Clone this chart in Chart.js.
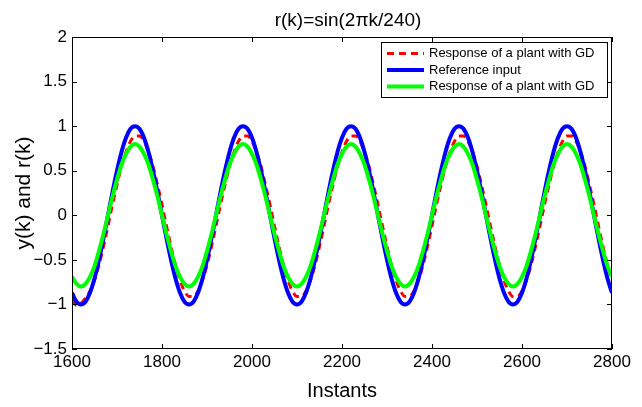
<!DOCTYPE html>
<html lang="en">
<head>
<meta charset="UTF-8">
<title>r(k)=sin(2πk/240)</title>
<script src="https://cdn.jsdelivr.net/npm/chart.js"></script>
<style>
  body { margin: 0; background: #fff; }
  canvas { display: block; }
</style>
</head>
<body>
<canvas id="chart" width="642" height="407"></canvas>
<script>
// sample instants (k)
const instants = [
  1600,1610,1620,1630,1640,1650,1660,1670,1680,1690,1700,1710,1720,1730,1740,1750,1760,1770,1780,1790,
  1800,1810,1820,1830,1840,1850,1860,1870,1880,1890,1900,1910,1920,1930,1940,1950,1960,1970,1980,1990,
  2000,2010,2020,2030,2040,2050,2060,2070,2080,2090,2100,2110,2120,2130,2140,2150,2160,2170,2180,2190,
  2200,2210,2220,2230,2240,2250,2260,2270,2280,2290,2300,2310,2320,2330,2340,2350,2360,2370,2380,2390,
  2400,2410,2420,2430,2440,2450,2460,2470,2480,2490,2500,2510,2520,2530,2540,2550,2560,2570,2580,2590,
  2600,2610,2620,2630,2640,2650,2660,2670,2680,2690,2700,2710,2720,2730,2740,2750,2760,2770,2780,2790,
  2800
];

// red dashed: response of a plant with GD
const responseGD = [
  -0.95,-1.01,-0.99,-0.93,-0.85,-0.73,-0.56,-0.35,-0.12,0.12,0.34,0.55,0.71,0.83,0.89,0.89,0.83,0.71,0.55,0.34,
  0.12,-0.12,-0.35,-0.56,-0.73,-0.85,-0.91,-0.91,-0.85,-0.73,-0.56,-0.35,-0.12,0.12,0.34,0.55,0.71,0.83,0.89,0.89,
  0.83,0.71,0.55,0.34,0.12,-0.12,-0.35,-0.56,-0.73,-0.85,-0.91,-0.91,-0.85,-0.73,-0.56,-0.35,-0.12,0.12,0.34,0.55,
  0.71,0.83,0.89,0.89,0.83,0.71,0.55,0.34,0.12,-0.12,-0.35,-0.56,-0.73,-0.85,-0.91,-0.91,-0.85,-0.73,-0.56,-0.35,
  -0.12,0.12,0.34,0.55,0.71,0.83,0.89,0.89,0.83,0.71,0.55,0.34,0.12,-0.12,-0.35,-0.56,-0.73,-0.85,-0.91,-0.91,
  -0.85,-0.73,-0.56,-0.35,-0.12,0.12,0.34,0.55,0.71,0.83,0.89,0.89,0.83,0.71,0.55,0.34,0.12,-0.12,-0.35,-0.56,
  -0.73
];

// blue: reference input
const referenceInput = [
  -0.87,-0.97,-1,-0.97,-0.87,-0.71,-0.5,-0.26,0,0.26,0.5,0.71,0.87,0.97,1,0.97,0.87,0.71,0.5,0.26,
  0,-0.26,-0.5,-0.71,-0.87,-0.97,-1,-0.97,-0.87,-0.71,-0.5,-0.26,0,0.26,0.5,0.71,0.87,0.97,1,0.97,
  0.87,0.71,0.5,0.26,0,-0.26,-0.5,-0.71,-0.87,-0.97,-1,-0.97,-0.87,-0.71,-0.5,-0.26,0,0.26,0.5,0.71,
  0.87,0.97,1,0.97,0.87,0.71,0.5,0.26,0,-0.26,-0.5,-0.71,-0.87,-0.97,-1,-0.97,-0.87,-0.71,-0.5,-0.26,
  0,0.26,0.5,0.71,0.87,0.97,1,0.97,0.87,0.71,0.5,0.26,0,-0.26,-0.5,-0.71,-0.87,-0.97,-1,-0.97,
  -0.87,-0.71,-0.5,-0.26,0,0.26,0.5,0.71,0.87,0.97,1,0.97,0.87,0.71,0.5,0.26,0,-0.26,-0.5,-0.71,
  -0.87
];

// green: second response of a plant with GD
const responseGD2 = [
  -0.69,-0.77,-0.8,-0.77,-0.69,-0.57,-0.4,-0.21,0,0.21,0.4,0.57,0.69,0.77,0.8,0.77,0.69,0.57,0.4,0.21,
  0,-0.21,-0.4,-0.57,-0.69,-0.77,-0.8,-0.77,-0.69,-0.57,-0.4,-0.21,0,0.21,0.4,0.57,0.69,0.77,0.8,0.77,
  0.69,0.57,0.4,0.21,0,-0.21,-0.4,-0.57,-0.69,-0.77,-0.8,-0.77,-0.69,-0.57,-0.4,-0.21,0,0.21,0.4,0.57,
  0.69,0.77,0.8,0.77,0.69,0.57,0.4,0.21,0,-0.21,-0.4,-0.57,-0.69,-0.77,-0.8,-0.77,-0.69,-0.57,-0.4,-0.21,
  0,0.21,0.4,0.57,0.69,0.77,0.8,0.77,0.69,0.57,0.4,0.21,0,-0.21,-0.4,-0.57,-0.69,-0.77,-0.8,-0.77,
  -0.69,-0.57,-0.4,-0.21,0,0.21,0.4,0.57,0.69,0.77,0.8,0.77,0.69,0.57,0.4,0.21,0,-0.21,-0.4,-0.57,
  -0.69
];

const seriesLabels = ['Response of a plant with GD', 'Reference input', 'Response of a plant with GD'];
const xTicks = { min: 1600, max: 2800, step: 200 };
const yTicks = { min: -1.5, max: 2, step: 0.5 };
const chartTitle = 'r(k)=sin(2\u03c0k/240)';

const FONT = "'Liberation Sans', Arial, Helvetica, sans-serif";

function points(vals) {
  return instants.map((k, i) => ({ x: k, y: vals[i] }));
}

// white background, box with inward ticks, title, legend
const matlabFrame = {
  id: 'matlabFrame',
  beforeDraw(chart) {
    const { ctx } = chart;
    ctx.save();
    ctx.fillStyle = '#fff';
    ctx.fillRect(0, 0, chart.width, chart.height);
    ctx.restore();
  },
  afterDatasetsDraw(chart) {
    const { ctx, chartArea: a, scales: { x, y } } = chart;
    ctx.save();
    ctx.strokeStyle = '#000';
    ctx.lineWidth = 1;
    ctx.strokeRect(Math.round(a.left) + 0.5, Math.round(a.top) + 0.5,
      Math.round(a.right - a.left) - 1, Math.round(a.bottom - a.top) - 1);

    const tl = 5;
    ctx.beginPath();
    x.ticks.forEach(t => {
      const px = Math.round(x.getPixelForValue(t.value)) + 0.5;
      ctx.moveTo(px, a.bottom); ctx.lineTo(px, a.bottom - tl);
      ctx.moveTo(px, a.top); ctx.lineTo(px, a.top + tl);
    });
    y.ticks.forEach(t => {
      const py = Math.round(y.getPixelForValue(t.value)) + 0.5;
      ctx.moveTo(a.left, py); ctx.lineTo(a.left + tl, py);
      ctx.moveTo(a.right, py); ctx.lineTo(a.right - tl, py);
    });
    ctx.stroke();

    // title
    ctx.fillStyle = '#000';
    ctx.font = '19px ' + FONT;
    ctx.textAlign = 'center';
    ctx.textBaseline = 'middle';
    ctx.fillText(chartTitle, (a.left + a.right) / 2 + 6, 21);

    // legend box
    const bw = 226, bh = 55;
    const bx = Math.round(a.right) - 5 - bw, by = Math.round(a.top) + 5;
    ctx.fillStyle = '#fff';
    ctx.fillRect(bx, by, bw, bh);
    ctx.strokeRect(bx + 0.5, by + 0.5, bw, bh);
    ctx.font = '13px ' + FONT;
    ctx.textAlign = 'left';
    chart.data.datasets.forEach((ds, i) => {
      const ry = by + 11.5 + i * 16.5;
      ctx.save();
      ctx.strokeStyle = ds.borderColor;
      ctx.lineWidth = ds.borderWidth;
      ctx.setLineDash(ds.borderDash || []);
      ctx.beginPath();
      ctx.moveTo(bx + 6, ry); ctx.lineTo(bx + 43, ry);
      ctx.stroke();
      ctx.restore();
      ctx.fillStyle = '#000';
      ctx.fillText(ds.label, bx + 48, ry);
    });
    ctx.restore();
  }
};

new Chart(document.getElementById('chart'), {
  type: 'line',
  data: {
    datasets: [
      { label: seriesLabels[0], data: points(responseGD), borderColor: '#ff0000', borderWidth: 3,
        borderDash: [7, 5], order: 2 },
      { label: seriesLabels[1], data: points(referenceInput), borderColor: '#0000ff', borderWidth: 4, order: 1 },
      { label: seriesLabels[2], data: points(responseGD2), borderColor: '#00ff00', borderWidth: 4, order: 0 }
    ]
  },
  options: {
    responsive: false,
    devicePixelRatio: 1,
    animation: false,
    layout: { padding: { top: 37, right: 30, left: 0, bottom: 0 } },
    elements: { point: { radius: 0 }, line: { cubicInterpolationMode: 'monotone', fill: false } },
    plugins: { legend: { display: false }, title: { display: false }, tooltip: { enabled: false } },
    scales: {
      x: {
        type: 'linear',
        min: xTicks.min, max: xTicks.max,
        afterFit(s) { s.height = 58; },
        grid: { display: false, drawTicks: false },
        border: { display: false },
        ticks: { stepSize: xTicks.step, autoSkip: false, maxRotation: 0, padding: 3,
          color: '#000', font: { family: FONT, size: 17 }, callback: v => String(v) },
        title: { display: true, text: 'Instants', color: '#000',
          font: { family: FONT, size: 20 }, padding: { top: 0, bottom: 4 } }
      },
      y: {
        min: yTicks.min, max: yTicks.max,
        afterFit(s) { s.width = 72; },
        grid: { display: false, drawTicks: false },
        border: { display: false },
        ticks: { stepSize: yTicks.step, padding: 5, color: '#000', font: { family: FONT, size: 17 },
          callback: v => v < 0 ? '\u2212' + Math.abs(v) : String(v) },
        title: { display: true, text: 'y(k) and r(k)', color: '#000',
          font: { family: FONT, size: 21 }, padding: { top: 12, bottom: 0 } }
      }
    }
  },
  plugins: [matlabFrame]
});
</script>
</body>
</html>
